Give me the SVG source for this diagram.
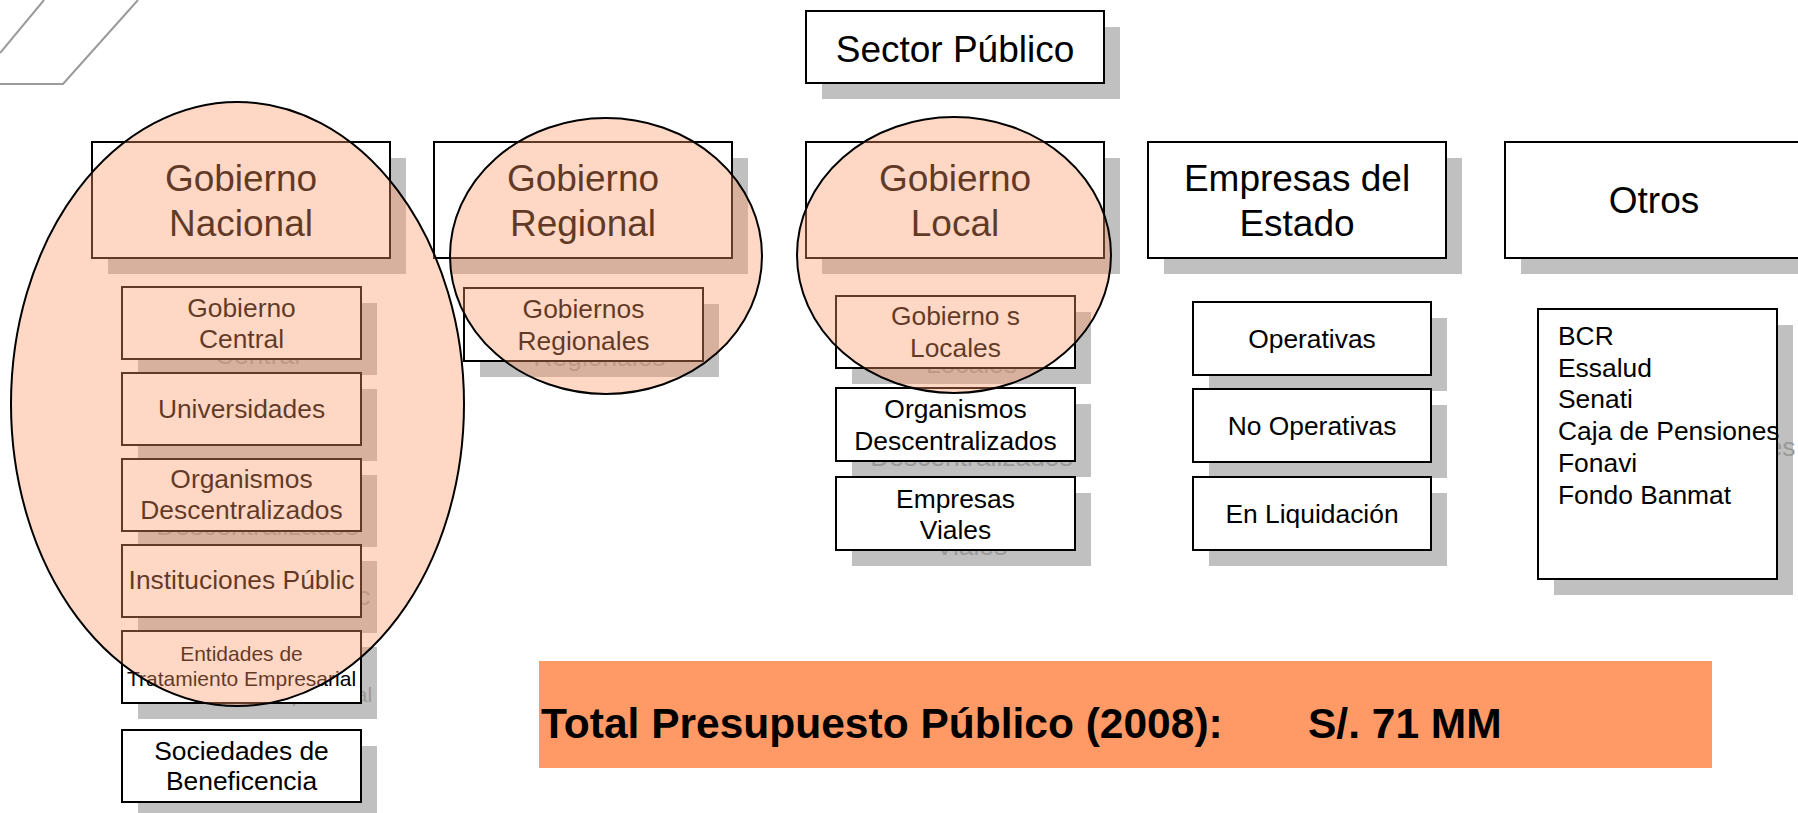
<svg xmlns="http://www.w3.org/2000/svg" width="1798" height="813" viewBox="0 0 1798 813">
<style>
.box{fill:#fff;stroke:#000;stroke-width:2}
.sh{fill:#c0c0c0}
.t{font-family:"Liberation Sans",Arial,sans-serif;fill:#000;text-anchor:middle}
.l{font-family:"Liberation Sans",Arial,sans-serif;fill:#000;font-size:26.4px}
.st{fill:#9a9a9a}
.big{font-size:37px}
.med{font-size:26.4px}
.sm{font-size:21px}
.hl{fill:#ff9966;fill-opacity:0.38;stroke:#000;stroke-width:2}
.deco{fill:none;stroke:#9a9a9a;stroke-width:2}
.total{font-family:"Liberation Sans",Arial,sans-serif;font-weight:bold;font-size:42.5px;fill:#000}
</style>
<rect width="1798" height="813" fill="#fff"/>
<g id="decor">
<line class="deco" x1="0" y1="53" x2="44" y2="0"/>
<polyline class="deco" points="0,84 63,84 138,0"/>
</g>
<g id="sector-publico">
<rect class="sh" x="822" y="27" width="298" height="72"/>
<rect class="box" x="806" y="11" width="298" height="72"/>
<text class="t big" x="955" y="62">Sector Público</text>
</g>
<g id="gobierno-nacional">
<rect class="sh" x="108" y="158" width="298" height="116"/>
<rect class="box" x="92" y="142" width="298" height="116"/>
<text class="t big" x="241" y="191">Gobierno</text>
<text class="t big" x="241" y="236">Nacional</text>
</g>
<g id="gobierno-regional">
<rect class="sh" x="450" y="158" width="298" height="116"/>
<rect class="box" x="434" y="142" width="298" height="116"/>
<text class="t big" x="583" y="191">Gobierno</text>
<text class="t big" x="583" y="236">Regional</text>
</g>
<g id="gobierno-local">
<rect class="sh" x="822" y="158" width="298" height="116"/>
<rect class="box" x="806" y="142" width="298" height="116"/>
<text class="t big" x="955" y="191">Gobierno</text>
<text class="t big" x="955" y="236">Local</text>
</g>
<g id="empresas-estado">
<rect class="sh" x="1164" y="158" width="298" height="116"/>
<rect class="box" x="1148" y="142" width="298" height="116"/>
<text class="t big" x="1297" y="191">Empresas del</text>
<text class="t big" x="1297" y="236">Estado</text>
</g>
<g id="otros">
<rect class="sh" x="1521" y="158" width="298" height="116"/>
<rect class="box" x="1505" y="142" width="298" height="116"/>
<text class="t big" x="1654" y="213">Otros</text>
</g>
<g id="gobierno-central">
<rect class="sh" x="138" y="303" width="239" height="72"/>
<text class="t med st" x="257.5" y="364">Central</text>
<rect class="box" x="122" y="287" width="239" height="72"/>
<text class="t med" x="241.5" y="317">Gobierno</text>
<text class="t med" x="241.5" y="348">Central</text>
</g>
<g id="universidades">
<rect class="sh" x="138" y="389" width="239" height="72"/>
<rect class="box" x="122" y="373" width="239" height="72"/>
<text class="t med" x="241.5" y="418">Universidades</text>
</g>
<g id="organismos-nacional">
<rect class="sh" x="138" y="475" width="239" height="72"/>
<text class="t med st" x="257.5" y="535">Descentralizados</text>
<rect class="box" x="122" y="459" width="239" height="72"/>
<text class="t med" x="241.5" y="488">Organismos</text>
<text class="t med" x="241.5" y="519">Descentralizados</text>
</g>
<g id="instituciones-publicas">
<rect class="sh" x="138" y="561" width="239" height="72"/>
<text class="t med st" x="257.5" y="605">Instituciones Públic</text>
<rect class="box" x="122" y="545" width="239" height="72"/>
<text class="t med" x="241.5" y="589">Instituciones Públic</text>
</g>
<g id="entidades-tratamiento">
<rect class="sh" x="138" y="647" width="239" height="72"/>
<text class="t sm st" x="257.5" y="702">Tratamiento Empresarial</text>
<rect class="box" x="122" y="631" width="239" height="72"/>
<text class="t sm" x="241.5" y="661">Entidades de</text>
<text class="t sm" x="241.5" y="686">Tratamiento Empresarial</text>
</g>
<g id="sociedades-beneficencia">
<rect class="sh" x="138" y="746" width="239" height="72"/>
<rect class="box" x="122" y="730" width="239" height="72"/>
<text class="t med" x="241.5" y="760">Sociedades de</text>
<text class="t med" x="241.5" y="790">Beneficencia</text>
</g>
<g id="gobiernos-regionales">
<rect class="sh" x="480" y="304" width="239" height="73"/>
<text class="t med st" x="599.5" y="366">Regionales</text>
<rect class="box" x="464" y="288" width="239" height="73"/>
<text class="t med" x="583.5" y="318">Gobiernos</text>
<text class="t med" x="583.5" y="350">Regionales</text>
</g>
<g id="gobiernos-locales">
<rect class="sh" x="852" y="312" width="239" height="72"/>
<text class="t med st" x="971.5" y="373">Locales</text>
<rect class="box" x="836" y="296" width="239" height="72"/>
<text class="t med" x="955.5" y="325">Gobierno s</text>
<text class="t med" x="955.5" y="357">Locales</text>
</g>
<g id="organismos-local">
<rect class="sh" x="852" y="404" width="239" height="73"/>
<text class="t med st" x="971.5" y="466">Descentralizados</text>
<rect class="box" x="836" y="388" width="239" height="73"/>
<text class="t med" x="955.5" y="418">Organismos</text>
<text class="t med" x="955.5" y="450">Descentralizados</text>
</g>
<g id="empresas-viales">
<rect class="sh" x="852" y="493" width="239" height="73"/>
<text class="t med st" x="971.5" y="555">Viales</text>
<rect class="box" x="836" y="477" width="239" height="73"/>
<text class="t med" x="955.5" y="508">Empresas</text>
<text class="t med" x="955.5" y="539">Viales</text>
</g>
<g id="operativas">
<rect class="sh" x="1209" y="318" width="238" height="73"/>
<rect class="box" x="1193" y="302" width="238" height="73"/>
<text class="t med" x="1312" y="348">Operativas</text>
</g>
<g id="no-operativas">
<rect class="sh" x="1209" y="405" width="238" height="73"/>
<rect class="box" x="1193" y="389" width="238" height="73"/>
<text class="t med" x="1312" y="435">No Operativas</text>
</g>
<g id="en-liquidacion">
<rect class="sh" x="1209" y="493" width="238" height="73"/>
<rect class="box" x="1193" y="477" width="238" height="73"/>
<text class="t med" x="1312" y="523">En Liquidación</text>
</g>
<g id="otros-lista">
<rect class="sh" x="1554" y="325" width="239" height="270"/>
<text class="l st" x="1574" y="456">Caja de Pensiones</text>
<rect class="box" x="1538" y="309" width="239" height="270"/>
<text class="l" x="1558" y="345">BCR</text>
<text class="l" x="1558" y="377">Essalud</text>
<text class="l" x="1558" y="408">Senati</text>
<text class="l" x="1558" y="440">Caja de Pensiones</text>
<text class="l" x="1558" y="472">Fonavi</text>
<text class="l" x="1558" y="504">Fondo Banmat</text>
</g>
<g id="total-presupuesto">
<rect x="539" y="661" width="1173" height="107" fill="#ff9966"/>
<text class="total" x="541" y="738">Total Presupuesto Público (2008):<tspan x="1308">S/. 71 MM</tspan></text>
</g>
<g id="highlights">
<ellipse class="hl" cx="237.5" cy="404" rx="226.5" ry="302"/>
<ellipse class="hl" cx="606" cy="256" rx="156" ry="138"/>
<ellipse class="hl" cx="954" cy="255" rx="157" ry="138"/>
</g>
</svg>
